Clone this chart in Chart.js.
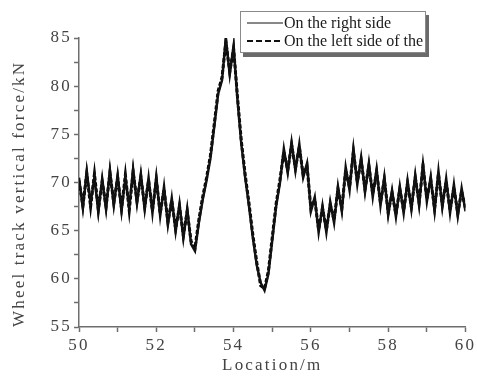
<!DOCTYPE html>
<html>
<head>
<meta charset="utf-8">
<script src="https://cdn.jsdelivr.net/npm/chart.js@4.4.1/dist/chart.umd.min.js"></script>
<style>
  html, body { margin: 0; padding: 0; background: #fff; }
  .wrap { position: relative; width: 477px; height: 379px; }
  .legend {
    position: absolute; left: 240px; top: 11px; width: 186px; height: 42px;
    border: 1px solid #8a8a8a; background: #fff; box-shadow: 3px 4px 0 #6a6a6a;
    font-family: "Liberation Serif", serif; font-size: 16px; color: #1a1a1a;
    box-sizing: border-box; padding-top: 2px; white-space: nowrap; overflow: hidden;
  }
  .legend-row { display: flex; align-items: center; height: 18px; }
  .legend-row svg { margin-left: 6px; margin-right: 1px; flex: none; }
</style>
</head>
<body>
<div class="wrap">
  <canvas id="forceChart" width="477" height="379"></canvas>
  <div class="legend" id="legend"></div>
</div>
<script>
// Positions along the track (m)
const positions = [
  50.0, 50.1, 50.2, 50.3, 50.4, 50.5, 50.6, 50.7, 50.8, 50.9,
  51.0, 51.1, 51.2, 51.3, 51.4, 51.5, 51.6, 51.7, 51.8, 51.9,
  52.0, 52.1, 52.2, 52.3, 52.4, 52.5, 52.6, 52.7, 52.8, 52.9,
  53.0, 53.1, 53.2, 53.3, 53.4, 53.5, 53.6, 53.7, 53.8, 53.9,
  54.0, 54.1, 54.2, 54.3, 54.4, 54.5, 54.6, 54.7, 54.8, 54.9,
  55.0, 55.1, 55.2, 55.3, 55.4, 55.5, 55.6, 55.7, 55.8, 55.9,
  56.0, 56.1, 56.2, 56.3, 56.4, 56.5, 56.6, 56.7, 56.8, 56.9,
  57.0, 57.1, 57.2, 57.3, 57.4, 57.5, 57.6, 57.7, 57.8, 57.9,
  58.0, 58.1, 58.2, 58.3, 58.4, 58.5, 58.6, 58.7, 58.8, 58.9,
  59.0, 59.1, 59.2, 59.3, 59.4, 59.5, 59.6, 59.7, 59.8, 59.9,
  60.0
];

// Wheel track vertical force (kN), right side
const rightSide = [
  70.5, 67.3, 71.2, 67.8, 70.6, 66.9, 70.4, 67.2, 71.3, 67.6,
  70.8, 67.0, 70.5, 67.4, 71.4, 67.8, 70.9, 67.2, 70.5, 66.8,
  70.6, 66.5, 69.6, 65.6, 68.4, 64.9, 67.8, 64.2, 67.3, 63.6,
  62.9, 65.8, 68.2, 70.2, 72.5, 75.8, 79.2, 80.6, 85.0, 81.2,
  84.2, 78.6, 74.0, 70.5, 67.5, 64.2, 61.4, 59.6, 58.8, 60.5,
  64.0, 67.5, 70.0, 73.5, 71.0, 74.2, 71.2, 74.0, 70.5, 72.0,
  67.0, 68.5, 64.8, 67.6, 64.8, 68.0, 65.8, 69.6, 67.0, 71.6,
  69.2, 73.5, 69.8, 72.6, 69.0, 72.0, 68.5, 71.4, 67.6, 70.6,
  66.6, 69.2, 66.4, 69.6, 66.8, 70.2, 67.2, 70.8, 67.6, 72.0,
  68.0, 70.6, 67.0, 71.2, 67.4, 70.4, 66.8, 69.8, 66.5, 69.4,
  67.0
];

// Wheel track vertical force (kN), left side
const leftSide = [
  70.2, 67.6, 70.9, 67.5, 70.9, 67.2, 70.1, 67.5, 71.0, 67.9,
  70.5, 67.3, 70.8, 67.1, 71.1, 68.1, 70.6, 67.5, 70.2, 67.1,
  70.3, 66.8, 69.3, 65.9, 68.1, 65.2, 67.5, 64.5, 67.0, 63.9,
  63.2, 66.1, 68.5, 70.5, 72.8, 76.1, 79.5, 80.9, 84.6, 81.5,
  83.9, 78.9, 74.3, 70.8, 67.8, 64.5, 61.7, 59.3, 59.0, 60.8,
  64.3, 67.8, 70.3, 73.2, 71.3, 73.9, 71.5, 73.7, 70.8, 71.7,
  67.3, 68.2, 65.1, 67.3, 65.1, 67.7, 66.1, 69.3, 67.3, 71.3,
  69.5, 73.2, 70.1, 72.3, 69.3, 71.7, 68.8, 71.1, 67.9, 70.3,
  66.9, 68.9, 66.7, 69.3, 67.1, 69.9, 67.5, 70.5, 67.9, 71.7,
  68.3, 70.3, 67.3, 70.9, 67.7, 70.1, 67.1, 69.5, 66.8, 69.1,
  67.3
];

const seriesLabels = ["On the right side", "On the left side of the"];
const yTitle = "Wheel track vertical force/kN";
const xTitle = "Location/m";

const toPoints = (vals) => positions.map((x, i) => ({ x: x, y: vals[i] }));

// spaziatura lettere come nell'originale
const letterSpacingPlugin = {
  id: "letterSpacing",
  beforeDraw: (chart) => {
    chart.ctx.letterSpacing = "2.2px";
  },
};

const serif = "'Liberation Serif', 'Times New Roman', serif";
const axisColor = "#6e6e6e";
const textColor = "#444";

const chart = new Chart(document.getElementById("forceChart"), {
  type: "line",
  data: {
    datasets: [
      {
        label: seriesLabels[0],
        data: toPoints(rightSide),
        borderColor: "#111",
        borderWidth: 2.5,
        pointRadius: 0,
        tension: 0,
      },
      {
        label: seriesLabels[1],
        data: toPoints(leftSide),
        borderColor: "#000",
        borderWidth: 3,
        borderDash: [4, 2],
        pointRadius: 0,
        tension: 0,
      },
    ],
  },
  options: {
    responsive: false,
    animation: false,
    layout: { padding: { top: 38, right: 10, left: 0, bottom: 0 } },
    plugins: {
      legend: { display: false },
      tooltip: { enabled: false },
    },
    scales: {
      x: {
        type: "linear",
        min: 50,
        max: 60,
        afterFit: (scale) => { scale.height = 52; },
        ticks: {
          stepSize: 1,
          padding: 3,
          color: textColor,
          font: { family: serif, size: 17 },
          callback: (v) => (v % 2 === 0 ? v : ""),
        },
        grid: { drawOnChartArea: false, tickLength: 5, tickColor: axisColor, tickWidth: 1.5 },
        border: { color: axisColor, width: 1.5 },
        title: {
          display: true,
          text: xTitle,
          color: textColor,
          font: { family: serif, size: 17 },
          padding: { top: 0, bottom: 3 },
        },
      },
      y: {
        min: 55,
        max: 85,
        afterFit: (scale) => { scale.width = 79; },
        ticks: {
          stepSize: 2.5,
          padding: 2,
          color: textColor,
          font: { family: serif, size: 17 },
          callback: (v) => (v % 5 === 0 ? v : ""),
        },
        grid: { drawOnChartArea: false, tickLength: 5, tickColor: axisColor, tickWidth: 1.5 },
        border: { color: axisColor, width: 1.5 },
        title: {
          display: true,
          text: yTitle,
          align: "start",
          color: textColor,
          font: { family: serif, size: 17 },
          padding: { top: 9, bottom: 0 },
        },
      },
    },
  },
  plugins: [letterSpacingPlugin],
});

// Legenda HTML
const renderLegend = () => {
  const legend = document.getElementById("legend");
  legend.innerHTML = chart.data.datasets
    .map(
      (ds) => `
      <div class="legend-row">
        <svg width="36" height="10">
          <line x1="0" y1="5" x2="36" y2="5" stroke="#111" stroke-width="${ds.borderDash ? 2 : 1}"
            ${ds.borderDash ? 'stroke-dasharray="6,3"' : ""}></line>
        </svg>
        <span>${ds.label}</span>
      </div>`
    )
    .join("");
};
renderLegend();
</script>
</body>
</html>
